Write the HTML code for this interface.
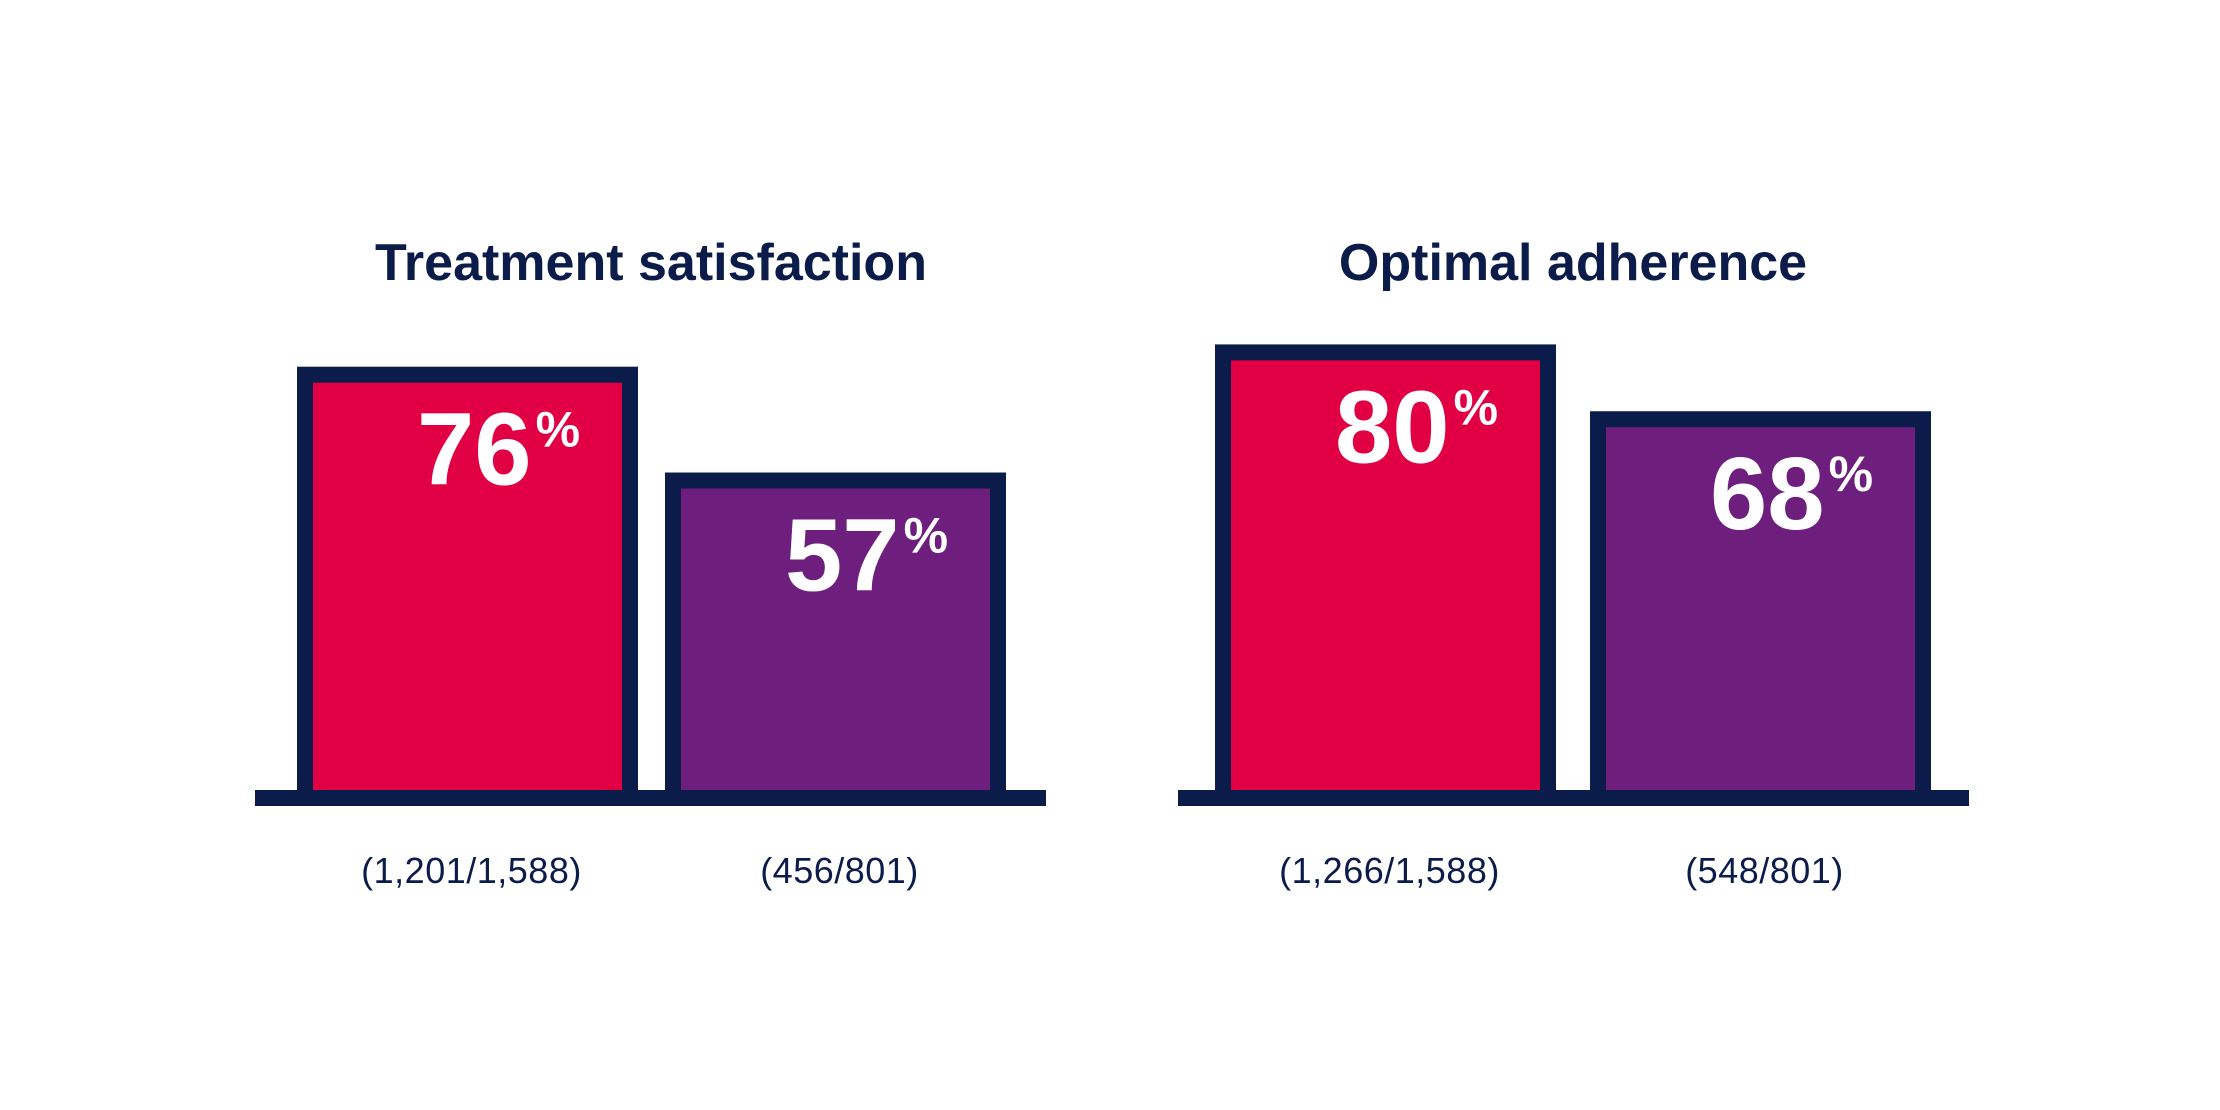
<!DOCTYPE html>
<html><head><meta charset="utf-8"><style>
html,body{margin:0;padding:0;background:#fff;}
svg{display:block;}
</style></head><body>
<svg id="chart" width="2220" height="1110" viewBox="0 0 2220 1110" xmlns="http://www.w3.org/2000/svg">
<rect width="2220" height="1110" fill="#ffffff"/>
</svg>
<script>
const panelTitles = ["Treatment satisfaction", "Optimal adherence"];
const redValues = [76, 80];
const purpleValues = [57, 68];
const redCounts = ["(1,201/1,588)", "(1,266/1,588)"];
const purpleCounts = ["(456/801)", "(548/801)"];

const NS = "http://www.w3.org/2000/svg";
const svg = document.getElementById("chart");
const baseY = 790, pxPerPct = 5.57;
const yScale = v => baseY - v * pxPerPct;
const panels = [
  {axisX: 255, axisW: 791, bars: [297, 665], center: 651},
  {axisX: 1178, axisW: 791, bars: [1215, 1590], center: 1573}
];
const barW = 341, border = 16;
const navy = "#0c1c4a";

function mk(tag, attrs, parent) {
  const e = document.createElementNS(NS, tag);
  for (const k in attrs) e.setAttribute(k, attrs[k]);
  (parent || svg).appendChild(e);
  return e;
}

panels.forEach((p, i) => {
  const g = mk("g", {});
  
  

  const t = mk("text", {x: p.center, y: 280, "text-anchor": "middle", "font-family": "Liberation Sans, sans-serif", "font-weight": "bold", "font-size": "52", fill: navy}, g);
  t.textContent = panelTitles[i];
  
  

  const series = [
    {v: redValues[i], fill: "#e10044", cnt: redCounts[i], name: "red"},
    {v: purpleValues[i], fill: "#6e1f7e", cnt: purpleCounts[i], name: "purple"}
  ];
  series.forEach((s, j) => {
    const x = p.bars[j];
    const top = yScale(s.v);
    const r = mk("rect", {x: x + border / 2, y: top + border / 2, width: barW - border, height: baseY - top, fill: s.fill, stroke: navy, "stroke-width": border}, g);
    
    

    const lbl = mk("text", {x: x + 120, y: top + 118, "font-family": "Liberation Sans Narrow, Liberation Sans, sans-serif", "font-weight": "bold", "font-size": "103", fill: "#ffffff"}, g);
    lbl.textContent = s.v;
    
    
    const pc = mk("tspan", {"font-size": "50", dy: "-38", dx: "4"}, lbl);
    pc.textContent = "%";

    const c = mk("text", {x: x + barW / 2 + 4, y: 883, "text-anchor": "middle", "font-family": "Liberation Sans, sans-serif", "font-size": "36", fill: navy, "letter-spacing": "0.5"}, g);
    c.textContent = s.cnt;
    
    
  });

  const ax = mk("rect", {x: p.axisX, y: baseY, width: p.axisW, height: 16, fill: navy}, g);
  
  
});
</script>
</body></html>
